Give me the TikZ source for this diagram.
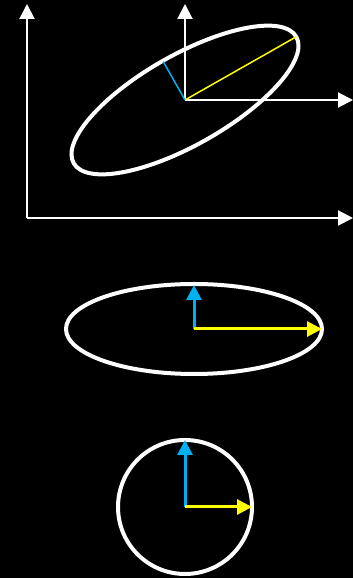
\documentclass[tikz,border=0pt]{standalone}
\usepackage{tikz}
\usetikzlibrary{arrows.meta,calc}
\definecolor{vecblue}{RGB}{0,176,240}
\definecolor{vecyellow}{RGB}{255,255,0}
\tikzset{
  axis/.style = {white, line width=2pt, -{Triangle[length=15pt,width=15pt]}},
  contour/.style = {white, line width=4pt},
  vec/.style = {line width=3pt, -{Triangle[length=15pt,width=15pt]}},
  semi/.style = {line width=1.5pt},
}

\begin{document}
\begin{tikzpicture}[x=1pt,y=1pt]
  \fill[black] (0,0) rectangle (353,578);
  \useasboundingbox (0,0) rectangle (353,578);

  % correlated cloud
  \coordinate (O) at (27,360);
  \coordinate (xend) at (353,360);
  \coordinate (yend) at (27,574);
  \draw[axis] (O) -- (xend);
  \draw[axis] (O) -- (yend);

  \coordinate (c) at (185,478);
  \coordinate (cx) at (353,478);
  \coordinate (cy) at (185,574);
  \draw[axis] (c) -- (cx);
  \draw[axis] (c) -- (cy);
  \draw[contour, rotate around={29.6:(c)}] (c) ellipse [x radius=128, y radius=45];
  \coordinate (major) at ($(c)+(29.6:128)$);
  \coordinate (minor) at ($(c)+(119.6:44)$);
  \draw[semi, vecyellow] (c) -- (major);
  \draw[semi, vecblue] (c) -- (minor);

  % rotated
  \coordinate (m) at (194,249);
  \coordinate (mx) at (322,249);
  \coordinate (my) at (194,293);
  \draw[contour] (m) ellipse [x radius=128, y radius=45];
  \draw[vec, vecblue] (m) -- (my);
  \draw[vec, vecyellow] (m) -- (mx);

  % whitened
  \coordinate (w) at (185,71);
  \coordinate (wx) at (252,71);
  \coordinate (wy) at (185,138);
  \draw[contour] (w) circle [radius=67];
  \draw[vec, vecblue] (w) -- (wy);
  \draw[vec, vecyellow] (w) -- (wx);
\end{tikzpicture}
\end{document}
